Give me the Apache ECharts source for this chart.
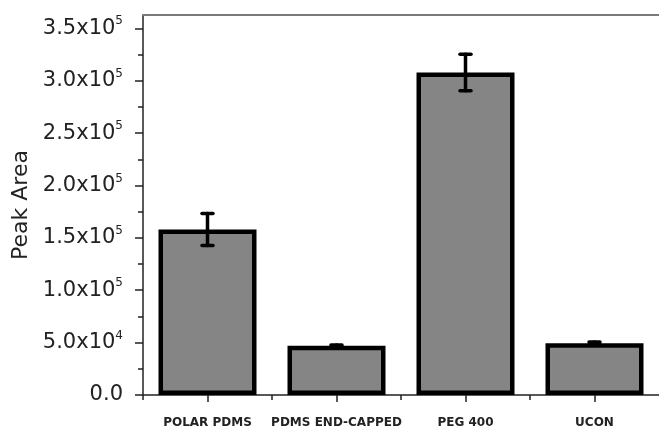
<!DOCTYPE html>
<html>
<head>
<meta charset="utf-8">
<script src="https://cdn.jsdelivr.net/npm/echarts@6/dist/echarts.min.js"></script>
<style>html,body{margin:0;padding:0;background:#fff}#c{width:659px;height:433px}</style>
</head>
<body>
<div id="c"></div>
<script>
const categories = ['POLAR PDMS', 'PDMS END-CAPPED', 'PEG 400', 'UCON'];
const peakArea = [158000, 47000, 307800, 49300];
const peakError = [15200, 700, 17500, 1400];
const yMajorTicks = [0, 50000, 100000, 150000, 200000, 250000, 300000, 350000];
const yMinorTicks = [25000, 75000, 125000, 175000, 225000, 275000, 325000];
const yTickLabels = ['0.0', '5.0x10{s|4}', '1.0x10{s|5}', '1.5x10{s|5}', '2.0x10{s|5}', '2.5x10{s|5}', '3.0x10{s|5}', '3.5x10{s|5}'];
const yMax = 362700;

const centers = categories.map((c, i) => i);
const bounds = categories.map((c, i) => i - 0.5);

const chart = echarts.init(document.getElementById('c'), null, {renderer: 'canvas'});
chart.setOption({
  animation: false,
  backgroundColor: '#fff',
  grid: {left: 143, right: -1, top: 15, bottom: 38},
  xAxis: [
    {
      type: 'value', position: 'bottom', min: -0.5, max: 3.5, interval: 0.5,
      splitLine: {show: false},
      axisLine: {onZero: false, lineStyle: {color: '#222', width: 1.5}},
      axisTick: {show: true, length: 5, customValues: bounds, lineStyle: {color: '#222', width: 1.5}},
      axisLabel: {
        customValues: centers, margin: 22,
        fontFamily: 'DejaVu Sans', fontWeight: 'bold', fontSize: 12, color: '#222',
        formatter: v => categories[Math.round(v)]
      }
    },
    {
      type: 'value', position: 'bottom', min: -0.5, max: 3.5, interval: 0.5,
      splitLine: {show: false},
      axisLine: {show: false, onZero: false},
      axisTick: {show: true, length: 7, customValues: centers, lineStyle: {color: '#222', width: 1.5}},
      axisLabel: {show: false}
    },
    {
      type: 'value', position: 'top', min: -0.5, max: 3.5,
      splitLine: {show: false},
      axisLine: {onZero: false, lineStyle: {color: '#7a7a7a', width: 2}},
      axisTick: {show: false},
      axisLabel: {show: false}
    }
  ],
  yAxis: [
    {
      type: 'value', position: 'left', min: 0, max: yMax, interval: 50000,
      splitLine: {show: false},
      name: 'Peak Area', nameLocation: 'middle', nameGap: 106,
      nameTextStyle: {fontFamily: 'DejaVu Sans', fontSize: 22, color: '#222'},
      axisLine: {onZero: false, lineStyle: {color: '#222', width: 1.5}},
      axisTick: {show: true, length: 8, customValues: yMajorTicks, lineStyle: {color: '#222', width: 1.5}},
      axisLabel: {
        customValues: yMajorTicks, margin: 20,
        fontFamily: 'DejaVu Sans', fontSize: 21, color: '#222',
        formatter: v => yTickLabels[yMajorTicks.indexOf(v)],
        rich: {
          s: {fontFamily: 'DejaVu Sans', fontSize: 12, color: '#222', verticalAlign: 'top', lineHeight: 26}
        }
      }
    },
    {
      type: 'value', position: 'left', min: 0, max: yMax,
      splitLine: {show: false},
      axisLine: {show: false, onZero: false},
      axisTick: {show: true, length: 5, customValues: yMinorTicks, lineStyle: {color: '#222', width: 1.5}},
      axisLabel: {show: false}
    }
  ],
  series: [
    {
      type: 'bar',
      xAxisIndex: 0, yAxisIndex: 0,
      barWidth: 98,
      data: peakArea.map((v, i) => [i, v]),
      itemStyle: {color: '#858585', borderColor: '#000', borderWidth: 4.5}
    },
    {
      type: 'custom',
      xAxisIndex: 0, yAxisIndex: 0,
      data: peakArea.map((v, i) => [i, v, peakError[i]]),
      renderItem: function (params, api) {
        const x = api.value(0), v = api.value(1), e = api.value(2);
        const hi = api.coord([x, v + e]);
        const lo = api.coord([x, v - e]);
        const hw = 5.5;
        const style = {stroke: '#000', lineWidth: 3.5, lineCap: 'round'};
        return {
          type: 'group',
          children: [
            {type: 'line', shape: {x1: hi[0], y1: hi[1], x2: lo[0], y2: lo[1]}, style: style},
            {type: 'line', shape: {x1: hi[0] - hw, y1: hi[1], x2: hi[0] + hw, y2: hi[1]}, style: style},
            {type: 'line', shape: {x1: lo[0] - hw, y1: lo[1], x2: lo[0] + hw, y2: lo[1]}, style: style}
          ]
        };
      },
      z: 10
    }
  ]
});
</script>
</body>
</html>
